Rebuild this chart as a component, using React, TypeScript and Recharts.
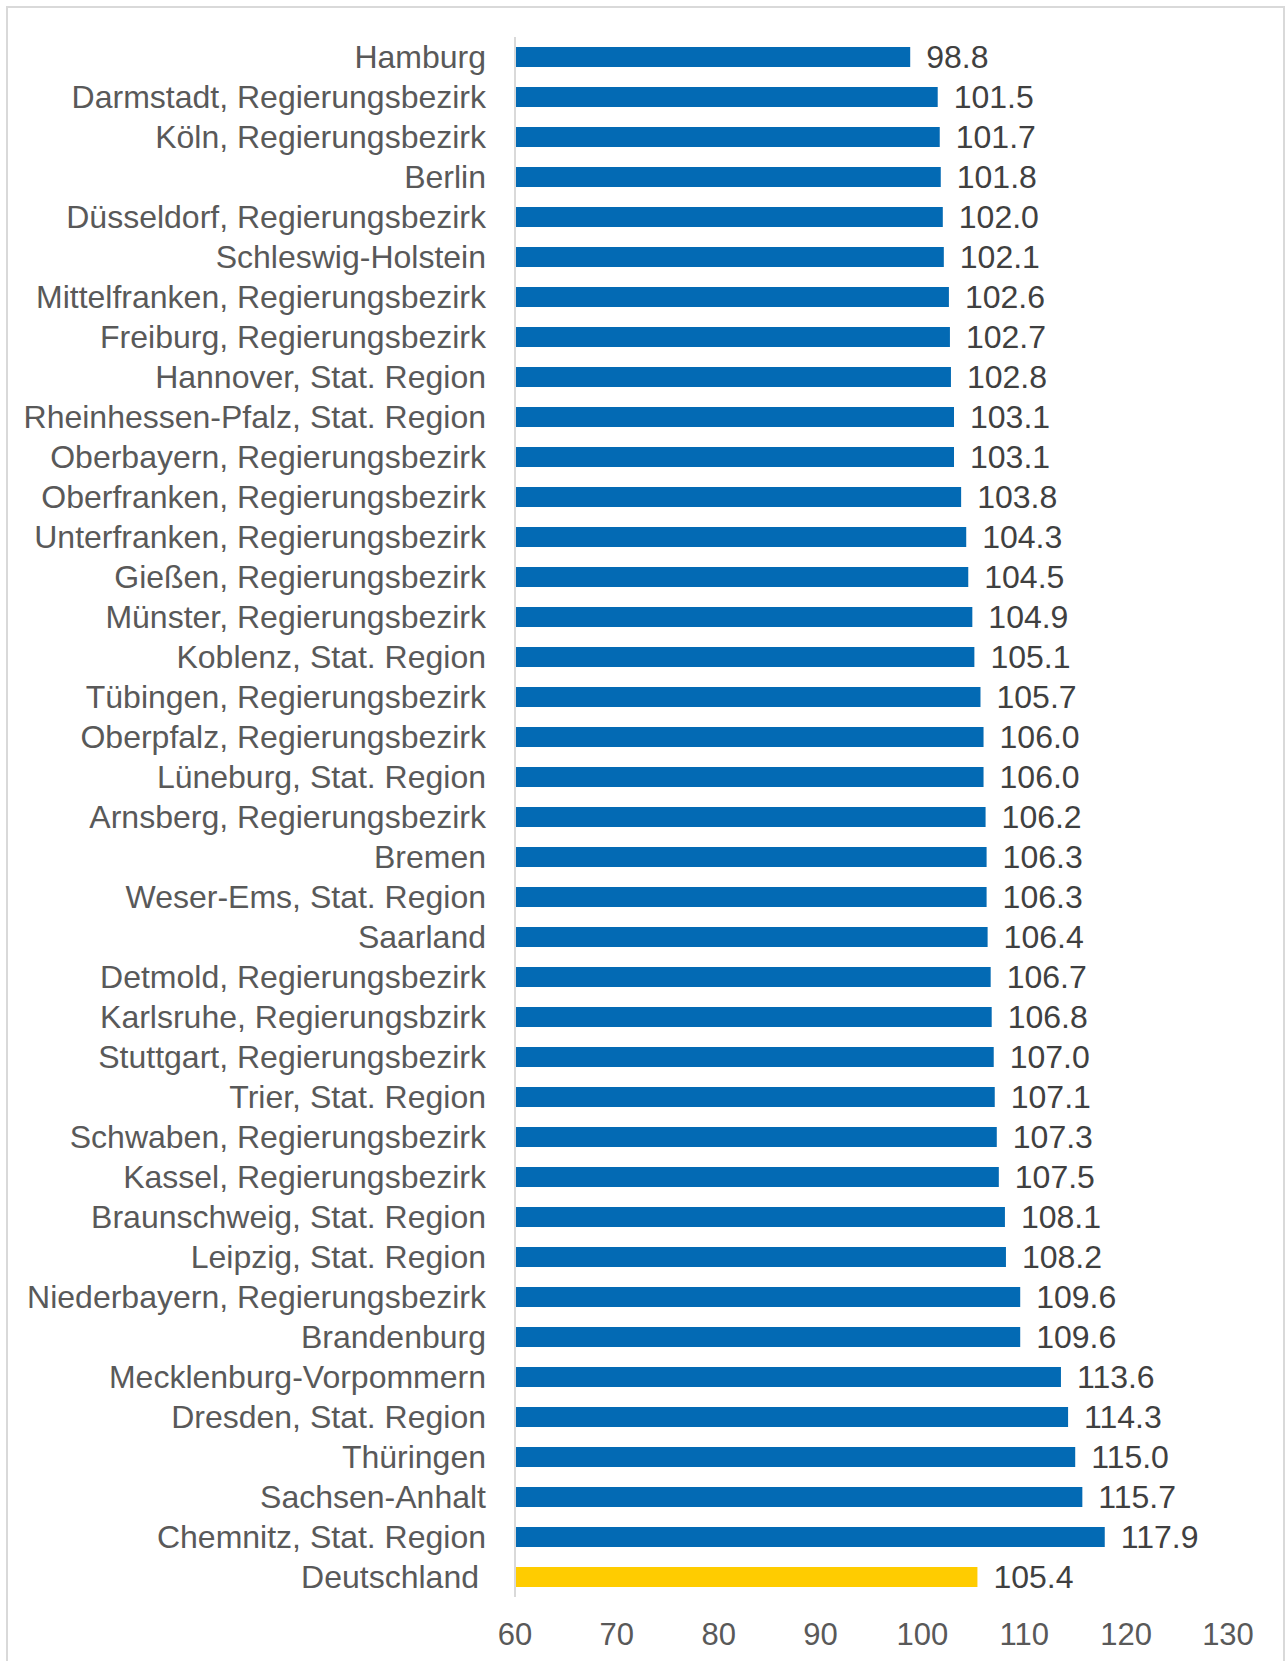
import React from "react";
import { BarChart, Bar, XAxis, YAxis, Cell, LabelList } from "recharts";

const regions = [
  "Hamburg",
  "Darmstadt, Regierungsbezirk",
  "Köln, Regierungsbezirk",
  "Berlin",
  "Düsseldorf, Regierungsbezirk",
  "Schleswig-Holstein",
  "Mittelfranken, Regierungsbezirk",
  "Freiburg, Regierungsbezirk",
  "Hannover, Stat. Region",
  "Rheinhessen-Pfalz, Stat. Region",
  "Oberbayern, Regierungsbezirk",
  "Oberfranken, Regierungsbezirk",
  "Unterfranken, Regierungsbezirk",
  "Gießen, Regierungsbezirk",
  "Münster, Regierungsbezirk",
  "Koblenz, Stat. Region",
  "Tübingen, Regierungsbezirk",
  "Oberpfalz, Regierungsbezirk",
  "Lüneburg, Stat. Region",
  "Arnsberg, Regierungsbezirk",
  "Bremen",
  "Weser-Ems, Stat. Region",
  "Saarland",
  "Detmold, Regierungsbezirk",
  "Karlsruhe, Regierungsbzirk",
  "Stuttgart, Regierungsbezirk",
  "Trier, Stat. Region",
  "Schwaben, Regierungsbezirk",
  "Kassel, Regierungsbezirk",
  "Braunschweig, Stat. Region",
  "Leipzig, Stat. Region",
  "Niederbayern, Regierungsbezirk",
  "Brandenburg",
  "Mecklenburg-Vorpommern",
  "Dresden, Stat. Region",
  "Thüringen",
  "Sachsen-Anhalt",
  "Chemnitz, Stat. Region",
  "Deutschland",
];

const indexValues = [
  98.8, 101.5, 101.7, 101.8, 102.0, 102.1, 102.6, 102.7, 102.8, 103.1,
  103.1, 103.8, 104.3, 104.5, 104.9, 105.1, 105.7, 106.0, 106.0, 106.2,
  106.3, 106.3, 106.4, 106.7, 106.8, 107.0, 107.1, 107.3, 107.5, 108.1,
  108.2, 109.6, 109.6, 113.6, 114.3, 115.0, 115.7, 117.9, 105.4,
];

const xTicks = [60, 70, 80, 90, 100, 110, 120, 130];

const highlight = "Deutschland";

const data = regions.map((name, i) => ({ name, value: indexValues[i] }));

const FONT = "'Liberation Sans', Arial, sans-serif";

// Deutschland label sits a bit further left in the original
function CategoryTick(props: any) {
  const { x, y, payload } = props;
  const shift = payload.value === highlight ? 7 : 0;
  return (
    <text x={x - shift} y={y} dy="0.355em" textAnchor="end" fill="#595959" fontSize={32} fontFamily={FONT}>
      {payload.value}
    </text>
  );
}

export default function App() {
  return (
    <div style={{ position: "absolute", left: 0, top: 0, width: 1285, height: 1661, background: "#fff", overflow: "hidden" }}>
      <div
        style={{
          position: "absolute",
          left: 6,
          top: 6,
          right: 0,
          height: 1700,
          border: "2px solid #d9d9d9",
          boxSizing: "border-box",
        }}
      />
      <div style={{ position: "absolute", left: 0, top: 0 }}>
        <BarChart
          width={1285}
          height={1661}
          data={data}
          layout="vertical"
          margin={{ top: 37, right: 57, bottom: 0, left: 0 }}
        >
          <XAxis
            type="number"
            domain={[60, 130]}
            ticks={xTicks}
            axisLine={false}
            tickLine={false}
            tickSize={0}
            tickMargin={26}
            height={64}
            tick={{ fill: "#595959", fontSize: 31, fontFamily: FONT }}
          />
          <YAxis
            type="category"
            dataKey="name"
            width={515}
            axisLine={{ stroke: "#d9d9d9", strokeWidth: 2 }}
            tickLine={false}
            tickSize={0}
            tickMargin={29}
            interval={0}
            tick={<CategoryTick />}
          />
          <Bar dataKey="value" barSize={20} isAnimationActive={false}>
            {data.map((d) => (
              <Cell key={d.name} fill={d.name === highlight ? "#ffcc00" : "#036ab4"} />
            ))}
            <LabelList
              dataKey="value"
              position="right"
              offset={16}
              formatter={(v: any) => Number(v).toFixed(1)}
              style={{ fill: "#404040", fontSize: 32, fontFamily: FONT }}
            />
          </Bar>
        </BarChart>
      </div>
    </div>
  );
}
